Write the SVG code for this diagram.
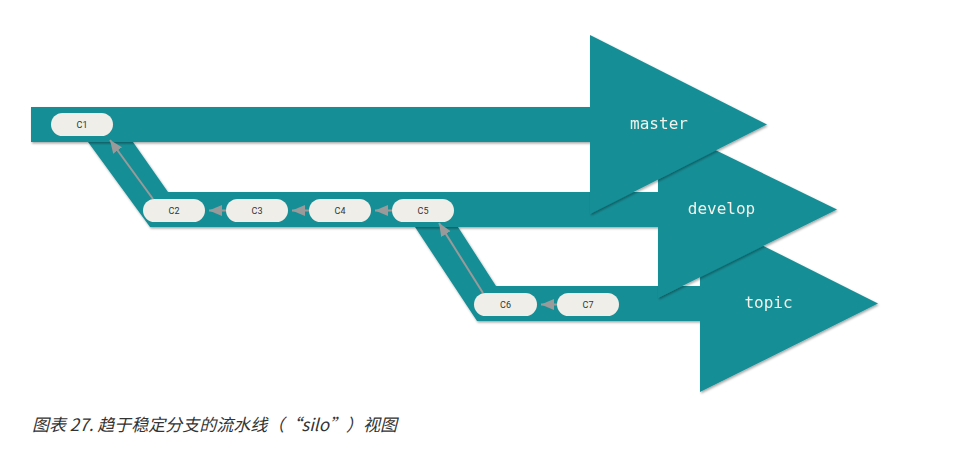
<svg xmlns="http://www.w3.org/2000/svg" width="966" height="453" viewBox="0 0 966 453">
<style>
.band{fill:#178e96}
.commit rect{fill:#efeee8}
.commit text{font-family:Roboto,"Liberation Sans",sans-serif;font-size:9px;fill:#333;text-anchor:middle}
.lbl{font-family:"DejaVu Sans Mono","Liberation Mono",monospace;font-size:16px;fill:#f2f2ea;text-anchor:middle}
.arr{stroke:#9a9a9a;stroke-width:2;fill:none;marker-end:url(#ah)}
.cap{font-family:"Noto Sans CJK SC","Noto Sans",sans-serif;font-size:17px;font-style:italic;fill:#333}
</style>
<defs>
<filter id="sh" x="-5%" y="-5%" width="110%" height="115%">
<feDropShadow dx="1" dy="1.5" stdDeviation="1" flood-color="#000" flood-opacity="0.35"/>
</filter>
<marker id="ah" viewBox="0 0 13 11" markerWidth="13" markerHeight="11" refX="13" refY="5.5" orient="auto" markerUnits="userSpaceOnUse">
<path d="M0,0 L13,5.5 L0,11 z" fill="#9a9a9a"/>
</marker>
</defs>
<rect width="966" height="453" fill="#fff"/>
<g id="topic" filter="url(#sh)">
<polygon class="band" points="415,227 458,227 496,286 702,286 702,321 477,321"/>
<polygon class="band" points="700,214 878,303.5 700,392"/>
<text class="lbl" x="768.5" y="308">topic</text>
</g>
<g id="develop" filter="url(#sh)">
<polygon class="band" points="88,142 133,142 168,192 660,192 660,227 150,227"/>
<polygon class="band" points="658,122 837,209.5 658,298"/>
<text class="lbl" x="721.5" y="214">develop</text>
</g>
<g id="master" filter="url(#sh)">
<rect class="band" x="31" y="107" width="561" height="35"/>
<polygon class="band" points="590,35 767,124.5 590,214"/>
<text class="lbl" x="659" y="129">master</text>
</g>
<g id="connectors">
<line class="arr" x1="153" y1="199" x2="110" y2="140"/>
<line class="arr" x1="227" y1="210.5" x2="209" y2="210.5"/>
<line class="arr" x1="309" y1="210.5" x2="292" y2="210.5"/>
<line class="arr" x1="392" y1="210.5" x2="375" y2="210.5"/>
<line class="arr" x1="483" y1="293" x2="439" y2="223"/>
<line class="arr" x1="557" y1="304.5" x2="541" y2="304.5"/>
</g>
<g id="C1" class="commit"><rect x="51" y="113" width="62" height="23" rx="11.5"/><text x="82" y="128">C1</text></g>
<g id="C2" class="commit"><rect x="143" y="199" width="62" height="23" rx="11.5"/><text x="174" y="214">C2</text></g>
<g id="C3" class="commit"><rect x="226" y="199" width="62" height="23" rx="11.5"/><text x="257" y="214">C3</text></g>
<g id="C4" class="commit"><rect x="309" y="199" width="62" height="23" rx="11.5"/><text x="340" y="214">C4</text></g>
<g id="C5" class="commit"><rect x="392" y="199" width="62" height="23" rx="11.5"/><text x="423" y="214">C5</text></g>
<g id="C6" class="commit"><rect x="474" y="293" width="63" height="23" rx="11.5"/><text x="505.5" y="308">C6</text></g>
<g id="C7" class="commit"><rect x="557" y="293" width="62" height="23" rx="11.5"/><text x="588" y="308">C7</text></g>
<text class="cap" x="32" y="431">图表 27. 趋于稳定分支的流水线（“silo”）视图</text>
</svg>
